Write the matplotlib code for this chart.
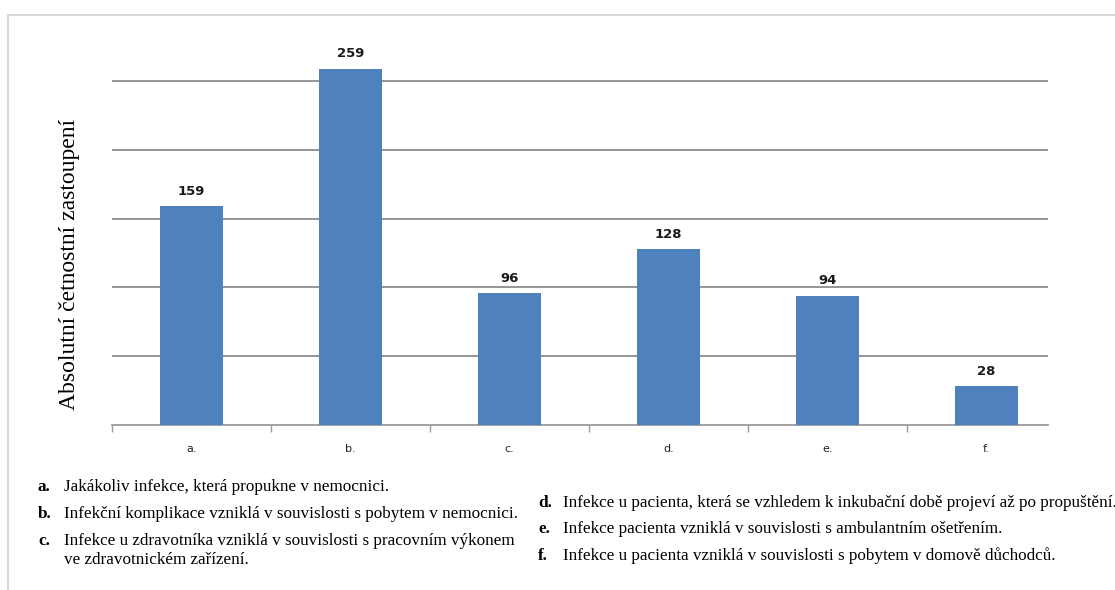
import matplotlib
matplotlib.use("Agg")
import matplotlib.pyplot as plt
from matplotlib.patches import Rectangle

# Data
categories = ["a.", "b.", "c.", "d.", "e.", "f."]
counts = [159, 259, 96, 128, 94, 28]
y_label = "Absolutní četnostní zastoupení"
left_notes = [
    ("a.", "Jakákoliv infekce, která propukne v nemocnici."),
    ("b.", "Infekční komplikace vzniklá v souvislosti s pobytem v nemocnici."),
    ("c.", "Infekce u zdravotníka vzniklá v souvislosti s pracovním výkonem\nve zdravotnickém zařízení."),
]
right_notes = [
    ("d.", "Infekce u pacienta, která se vzhledem k inkubační době projeví až po propuštění."),
    ("e.", "Infekce pacienta vzniklá v souvislosti s ambulantním ošetřením."),
    ("f.", "Infekce u pacienta vzniklá v souvislosti s pobytem v domově důchodců."),
]

W, H = 1115, 590
fig = plt.figure(figsize=(W / 100, H / 100), dpi=100)
fig.patch.set_facecolor("white")

# light outer frame of the chart area
fig.patches.append(Rectangle((8 / W, -0.05), 1.2, (H - 15) / H + 0.05,
                             transform=fig.transFigure, fill=False,
                             edgecolor="#d9d9d9", linewidth=1.5, zorder=0))

ymax = 300
ax_left, ax_right = 112, 1048
ax_bottom, ax_top = 425, 12.2
ax = fig.add_axes([ax_left / W, (H - ax_bottom) / H,
                   (ax_right - ax_left) / W, (ax_bottom - ax_top) / H])

x = list(range(len(categories)))
bars = ax.bar(x, counts, width=0.4, color="#4f81bd", zorder=3)

ax.set_ylim(0, ymax)
ax.set_xlim(-0.5, 5.387)
ax.set_yticks([50, 100, 150, 200, 250])
ax.yaxis.grid(True, color="#8c8c8c", linewidth=1.3, zorder=1)
ax.tick_params(axis="y", left=False, labelleft=False)

for s in ["top", "right", "left"]:
    ax.spines[s].set_visible(False)
ax.spines["bottom"].set_color("#9a9a9a")
ax.spines["bottom"].set_linewidth(1.3)

ax.set_xticks(x)
ax.set_xticklabels(categories, fontsize=8, color="#222222", family="DejaVu Sans")
ax.tick_params(axis="x", which="major", length=0, pad=14)
ax.set_xticks([i - 0.5 for i in range(len(categories))], minor=True)
ax.tick_params(axis="x", which="minor", length=5, color="#9a9a9a", width=1)

for xi, v in zip(x, counts):
    ax.annotate(str(v), (xi, v), xytext=(0, 6), textcoords="offset points",
                ha="center", va="bottom", fontsize=9.5, color="#1a1a1a",
                family="DejaVu Sans", fontweight="semibold")

fig.text(70 / W, 1 - 264 / H, y_label, rotation=90, ha="center", va="center",
         fontsize=17, family="Liberation Serif", color="black")

# explanatory notes below the chart
note_fs = 12.3
for (lbl, txt), yc in zip(left_notes, [487, 514, 550.5]):
    lbl_y = yc - 9.5 if "\n" in txt else yc
    fig.text(38 / W, 1 - lbl_y / H, lbl, fontsize=note_fs, fontweight="bold",
             family="Liberation Serif", va="center", ha="left")
    fig.text(64 / W, 1 - yc / H, txt, fontsize=note_fs, family="Liberation Serif",
             va="center", ha="left", linespacing=1.3)
for (lbl, txt), yc in zip(right_notes, [503, 529, 556]):
    fig.text(538 / W, 1 - yc / H, lbl, fontsize=note_fs, fontweight="bold",
             family="Liberation Serif", va="center", ha="left")
    fig.text(563 / W, 1 - yc / H, txt, fontsize=note_fs, family="Liberation Serif",
             va="center", ha="left")

fig.savefig("out.png", dpi=100, facecolor="white")
